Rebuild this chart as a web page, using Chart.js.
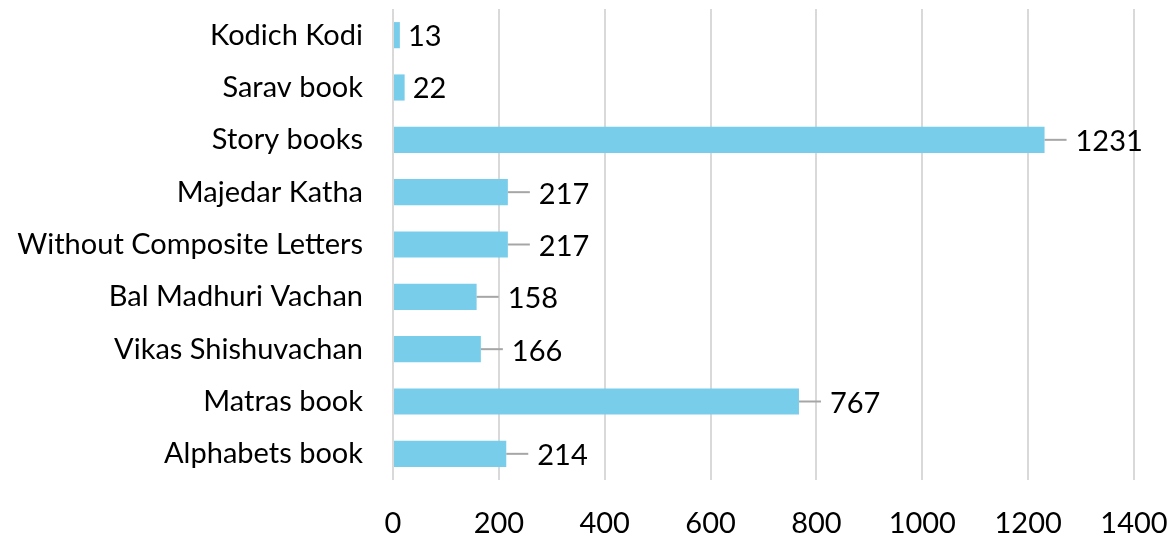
<!DOCTYPE html>
<html>
<head>
<meta charset="utf-8">
<script src="https://cdn.jsdelivr.net/npm/chart.js@4"></script>
<style>
  html, body { margin: 0; padding: 0; background: #fff; }
  #wrap { width: 1175px; height: 536px; }
</style>
</head>
<body>
<div id="wrap"><canvas id="bookChart"></canvas></div>
<script>
// categories top to bottom
var books = ["Kodich Kodi", "Sarav book", "Story books", "Majedar Katha",
  "Without Composite Letters", "Bal Madhuri Vachan", "Vikas Shishuvachan",
  "Matras book", "Alphabets book"];
var counts = [13, 22, 1231, 217, 217, 158, 166, 767, 214];
var xTicks = [0, 200, 400, 600, 800, 1000, 1200, 1400];

var fontName = "Lato, 'Open Sans', sans-serif";
var fontSize = 29;

// value labels with small grey leader lines, like the spreadsheet chart
var valueLabels = {
  id: "valueLabels",
  afterDatasetsDraw: function (chart) {
    var ctx = chart.ctx;
    var meta = chart.getDatasetMeta(0);
    ctx.save();
    ctx.font = fontSize + "px " + fontName;
    ctx.fillStyle = "#000";
    ctx.textBaseline = "middle";
    ctx.textAlign = "left";
    meta.data.forEach(function (bar, i) {
      var xEnd = bar.x;
      var y = bar.y;
      if (counts[i] > 100) {
        ctx.strokeStyle = "#a6a6a6";
        ctx.lineWidth = 2;
        ctx.beginPath();
        ctx.moveTo(xEnd, y);
        ctx.lineTo(xEnd + 22, y);
        ctx.stroke();
        ctx.fillText(String(counts[i]), xEnd + 31, y + 2);
      } else {
        ctx.fillText(String(counts[i]), xEnd + 8, y + 1);
      }
    });
    ctx.restore();
  }
};

var ctx = document.getElementById("bookChart").getContext("2d");
var bookChart = new Chart(ctx, {
  type: "bar",
  data: {
    labels: books,
    datasets: [{
      data: counts,
      backgroundColor: "#78cdeb",
      borderWidth: 0,
      categoryPercentage: 1,
      barPercentage: 0.5
    }]
  },
  plugins: [valueLabels],
  options: {
    indexAxis: "y",
    responsive: true,
    maintainAspectRatio: false,
    animation: false,
    layout: { padding: { top: 9, right: 41, left: 0, bottom: 0 } },
    plugins: {
      legend: { display: false },
      tooltip: { enabled: false }
    },
    scales: {
      x: {
        min: 0,
        max: 1400,
        afterBuildTicks: function (axis) {
          axis.ticks = xTicks.map(function (v) { return { value: v }; });
        },
        grid: { color: "#d9d9d9", lineWidth: 2, drawTicks: false },
        border: { display: false },
        ticks: {
          padding: 26,
          color: "#000",
          font: { family: fontName, size: fontSize },
          callback: function (v) { return String(v); }
        },
        afterFit: function (axis) {
          axis.height = 56;
          axis.paddingLeft = 0;
          axis.paddingRight = 0;
        }
      },
      y: {
        grid: { display: false, drawTicks: false },
        border: { display: false },
        ticks: {
          padding: 30,
          color: "#000",
          font: { family: fontName, size: fontSize }
        },
        afterFit: function (axis) {
          axis.width = 393;
          axis.paddingTop = 0;
          axis.paddingBottom = 0;
        }
      }
    }
  }
});
</script>
</body>
</html>
